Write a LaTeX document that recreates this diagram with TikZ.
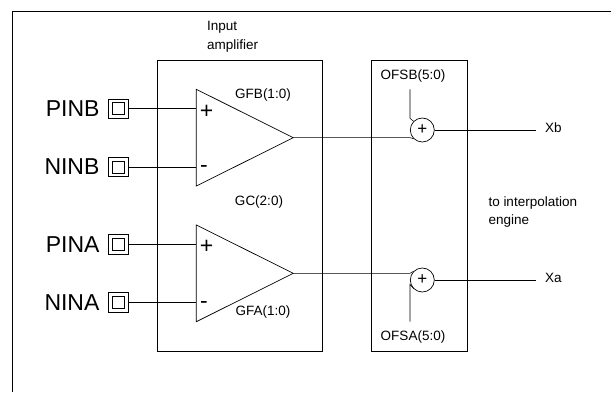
\documentclass[tikz,border=0pt]{standalone}
\usepackage{fontspec}
\setmainfont{Liberation Sans}
\usetikzlibrary{positioning}

\tikzset{
	blockbox/.style={draw,line width=0.8pt},
	wire/.style={line width=0.55pt},
	pad/.style={draw,line width=0.8pt,minimum size=19.5pt,inner sep=0pt,
		path picture={\draw[line width=0.7pt] ([xshift=-6pt,yshift=-6pt]path picture bounding box.center) rectangle ([xshift=6pt,yshift=6pt]path picture bounding box.center);}},
	pinname/.style={font=\fontsize{23}{26}\selectfont,inner sep=0pt},
	sign/.style={font=\fontsize{23}{26}\selectfont,inner sep=0pt},
	smalltext/.style={font=\fontsize{13.5}{16}\selectfont,inner sep=0pt},
	summer/.style={draw,circle,line width=0.7pt,minimum size=24pt,inner sep=0pt,font=\fontsize{17}{18}\selectfont}
}

\begin{document}
\begin{tikzpicture}[x=1pt,y=-1pt]
\useasboundingbox (0,0) rectangle (611,392);
		% frame, open to the right and bottom
		\draw [line width=1pt] (12,392) -- (12,11) -- (611,11);
		% blocks
		\draw [blockbox] (157.3,60) rectangle (322.3,351);
		\draw [blockbox] (371.3,60) rectangle (467.7,351);
		\node [smalltext,align=left,anchor=west,font=\fontsize{13.5}{19.3}\selectfont] (amptitle) at (207,36.5) {Input\\amplifier};
		% amplifier B
		\coordinate (BT) at (196.3,89.3);
		\coordinate (BB) at (196.3,186);
		\coordinate (BO) at (293.3,137.7);
		\coordinate (BP) at (196.3,108.7);
		\coordinate (BN) at (196.3,167);
		\draw [line width=0.7pt] (BT) -- (BO) -- (BB) -- cycle;
		% amplifier A
		\coordinate (AT) at (196.3,225);
		\coordinate (AB) at (196.3,321.7);
		\coordinate (AO) at (293.3,273.3);
		\coordinate (AP) at (196.3,244.3);
		\coordinate (AN) at (196.3,302.3);
		\draw [line width=0.7pt] (AT) -- (AO) -- (AB) -- cycle;
		\node [sign] (plusB) at (206.7,112) {+};
		\node [sign] (minusB) at (204,169) {-};
		\node [sign] (plusA) at (206.7,247.3) {+};
		\node [sign] (minusA) at (204,305) {-};
		\node [smalltext] (gfb) at (263,95) {GFB(1:0)};
		\node [smalltext] (gc) at (259,201.7) {GC(2:0)};
		\node [smalltext] (gfa) at (263,311.7) {GFA(1:0)};
		% input pads
		\node [pad] (PINBpad) at (118.3,108.7) {};
		\node [pad] (NINBpad) at (118.3,167) {};
		\node [pad] (PINApad) at (118.3,244.3) {};
		\node [pad] (NINApad) at (118.3,302.3) {};
		\node [pinname,left=8.5pt of PINBpad] (PINB) {PINB};
		\node [pinname,left=8.5pt of NINBpad] (NINB) {NINB};
		\node [pinname,left=8.5pt of PINApad] (PINA) {PINA};
		\node [pinname,left=8.5pt of NINApad] (NINA) {NINA};
		\draw [wire] (PINBpad) -- (BP);
		\draw [wire] (NINBpad) -- (BN);
		\draw [wire] (PINApad) -- (AP);
		\draw [wire] (NINApad) -- (AN);
		% offset adders
		\node [summer] (sumB) at (422.3,130) {+};
		\node [summer] (sumA) at (422.3,280) {+};
		\node [smalltext] (ofsb) at (413,76) {OFSB(5:0)};
		\node [smalltext] (ofsa) at (413,336.7) {OFSA(5:0)};
		\coordinate (ofsBtop) at (410,89.3);
		\coordinate (ofsAbot) at (410,321.7);
		\draw [wire] (BO) -- (BO -| 410,0) -- (sumB.south west);
		\draw [wire] (AO) -- (AO -| 410,0) -- (sumA.north west);
		\draw [wire] (ofsBtop) -- (410,118.3) -- (sumB.north west);
		\draw [wire] (ofsAbot) -- (410,284.3) -- (sumA.south west);
		% outputs
		\coordinate (XbEnd) at (535.7,130);
		\coordinate (XaEnd) at (535.7,280);
		\draw [wire] (sumB.east) -- (XbEnd);
		\draw [wire] (sumA.east) -- (XaEnd);
		\node [smalltext,right=9.3pt of XbEnd,yshift=2pt] (Xb) {Xb};
		\node [smalltext,right=9.3pt of XaEnd,yshift=2pt] (Xa) {Xa};
		\node [smalltext,align=left,anchor=west,font=\fontsize{13.5}{17.4}\selectfont] (dest) at (488.3,212) {to interpolation\\engine};
\end{tikzpicture}
\end{document}
